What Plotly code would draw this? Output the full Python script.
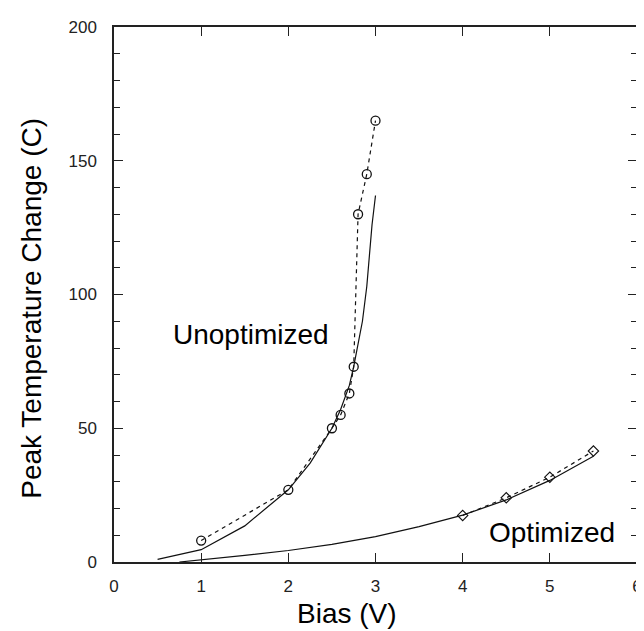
import plotly.graph_objects as go

# Unoptimized measured points
unopt_x = [1.0, 2.0, 2.5, 2.6, 2.7, 2.75, 2.8, 2.9, 3.0]
unopt_y = [8, 27, 50, 55, 63, 73, 130, 145, 165]
# Unoptimized model curve
unopt_fit_x = [0.5, 1.0, 1.5, 2.0, 2.25, 2.5, 2.6, 2.7, 2.75, 2.8, 2.85, 2.9, 2.93, 2.96, 3.0]
unopt_fit_y = [1, 4.6, 13.5, 27, 37, 50, 57, 66, 73, 81, 90, 103, 114, 126, 137]
# Optimized measured points
opt_x = [4.0, 4.5, 5.0, 5.5]
opt_y = [17.4, 24, 31.7, 41.5]
# Optimized model curve
opt_fit_x = [0.75, 1.0, 1.5, 2.0, 2.5, 3.0, 3.5, 4.0, 4.5, 5.0, 5.5]
opt_fit_y = [0, 0.8, 2.5, 4.3, 6.6, 9.5, 13.2, 17.5, 23.2, 30.5, 39.5]

x_ticks = [0, 1, 2, 3, 4, 5, 6]
y_ticks = [0, 50, 100, 150, 200]

LINE = "#111111"
fig = go.Figure()
fig.add_trace(go.Scatter(x=unopt_fit_x, y=unopt_fit_y, mode="lines",
                         line=dict(color=LINE, width=1.2), showlegend=False))
fig.add_trace(go.Scatter(x=unopt_x, y=unopt_y, mode="lines+markers",
                         line=dict(color=LINE, width=1.2, dash="4px,4px"),
                         marker=dict(symbol="circle-open", size=9, color=LINE,
                                     line=dict(width=1.3, color=LINE)),
                         showlegend=False))
fig.add_trace(go.Scatter(x=opt_fit_x, y=opt_fit_y, mode="lines",
                         line=dict(color=LINE, width=1.2), showlegend=False))
fig.add_trace(go.Scatter(x=opt_x, y=opt_y, mode="lines+markers",
                         line=dict(color=LINE, width=1.2, dash="4px,4px"),
                         marker=dict(symbol="diamond-open", size=8, color=LINE,
                                     line=dict(width=1.1, color=LINE)),
                         showlegend=False))

tickfont = dict(family="Liberation Sans, Arial, sans-serif", size=17, color="#222222")
titlefont = dict(family="Liberation Sans, Arial, sans-serif", size=28, color="#000000")

fig.update_xaxes(range=[0, 6], tickvals=x_ticks, ticktext=[str(v) for v in x_ticks],
                 ticks="inside", ticklen=9, tickwidth=1.2, tickcolor="#222",
                 showline=True, linecolor="#222", linewidth=1.5, mirror="ticks",
                 showgrid=False, zeroline=False, tickfont=tickfont,
                 ticklabelstandoff=8, ticklabeloverflow="allow")
fig.update_yaxes(range=[0, 200], tickvals=y_ticks, ticktext=[str(v) for v in y_ticks],
                 ticks="inside", ticklen=9, tickwidth=1.2, tickcolor="#222",
                 minor=dict(dtick=10, ticks="inside", ticklen=6, tickwidth=1.2, tickcolor="#222"),
                 showline=True, linecolor="#222", linewidth=1.5, mirror="ticks",
                 showgrid=False, zeroline=False, tickfont=tickfont,
                 ticklabelstandoff=12)

fig.add_annotation(x=1.57, y=84.9, text="Unoptimized", showarrow=False,
                   xanchor="center", yanchor="middle", font=titlefont)
fig.add_annotation(x=5.03, y=11.2, text="Optimized", showarrow=False,
                   xanchor="center", yanchor="middle", font=titlefont)
fig.add_annotation(xref="paper", yref="paper", x=0.445, y=-0.097, text="Bias (V)",
                   showarrow=False, xanchor="center", yanchor="middle", font=titlefont)
fig.add_annotation(xref="paper", yref="paper", x=-0.157, y=0.475,
                   text="Peak Temperature Change (C)", textangle=-90,
                   showarrow=False, xanchor="center", yanchor="middle", font=titlefont)

fig.update_layout(width=644, height=631, margin=dict(l=106, r=10, t=19, b=77),
                  plot_bgcolor="white", paper_bgcolor="white")
fig.write_html("out.html")
